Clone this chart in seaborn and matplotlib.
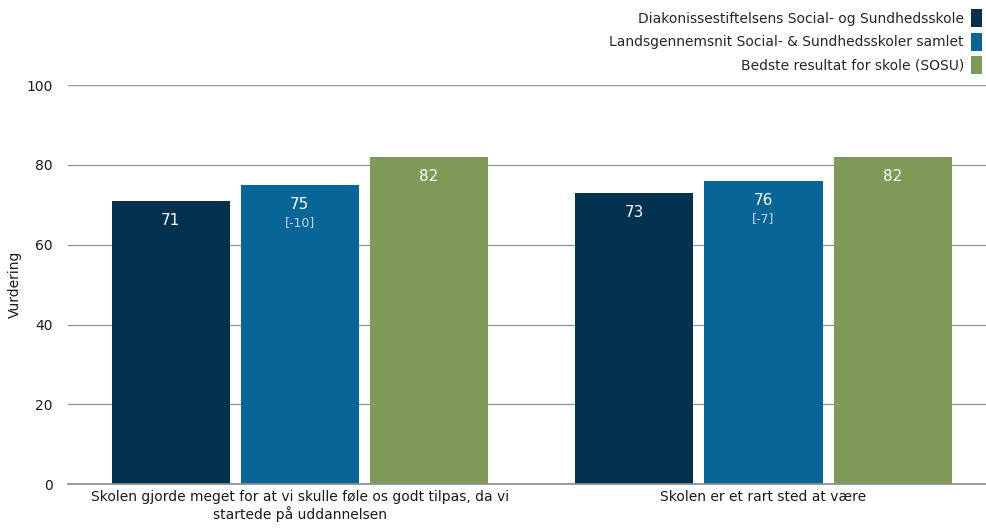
import pandas as pd
import seaborn as sns
import matplotlib.pyplot as plt
from matplotlib.patches import Patch

questions = [
    "Skolen gjorde meget for at vi skulle føle os godt tilpas, da vi\nstartede på uddannelsen",
    "Skolen er et rart sted at være",
]
series = [
    "Diakonissestiftelsens Social- og Sundhedsskole",
    "Landsgennemsnit Social- & Sundhedsskoler samlet",
    "Bedste resultat for skole (SOSU)",
]
school = [71, 73]
national = [75, 76]
best = [82, 82]
national_diff = ["[-10]", "[-7]"]
colors = ["#03324F", "#076598", "#7F9A58"]

rows = []
for name, vals in zip(series, [school, national, best]):
    for q, v in zip(questions, vals):
        rows.append({"Spørgsmål": q, "Serie": name, "Vurdering": v})
df = pd.DataFrame(rows)

sns.set_theme(style="white")
plt.rcParams["font.family"] = ["DejaVu Sans"]

fig = plt.figure(figsize=(9.86, 5.28), dpi=100)
ax = fig.add_axes([0.069, 0.083, 0.931, 0.756])

sns.barplot(data=df, x="Spørgsmål", y="Vurdering", hue="Serie", hue_order=series,
            palette=colors, width=0.836, gap=0.086, saturation=1, ax=ax,
            errorbar=None, linewidth=0)

ax.set_ylim(0, 100)
ax.set_xlim(-0.5, 1.48)
ax.set_yticks([0, 20, 40, 60, 80, 100])
ax.yaxis.grid(True, color="#999999", linewidth=1)
ax.set_axisbelow(True)
for s in ["top", "right", "left"]:
    ax.spines[s].set_visible(False)
ax.spines["bottom"].set_color("#8c8c8c")
ax.tick_params(axis="both", length=0, labelsize=10, colors="#1a1a1a")
ax.tick_params(axis="y", pad=11)
ax.tick_params(axis="x", pad=4)
ax.set_xlabel("")
ax.set_ylabel("Vurdering", fontsize=10, labelpad=3, color="#1a1a1a")

for i, cont in enumerate(ax.containers):
    for j, bar in enumerate(cont):
        x = bar.get_x() + bar.get_width() / 2
        h = bar.get_height()
        ax.annotate(f"{h:.0f}", (x, h), xytext=(0, -14), textcoords="offset points",
                    ha="center", va="center", color="white", fontsize=11)
        if i == 1:
            ax.annotate(national_diff[j], (x, h), xytext=(0, -27), textcoords="offset points",
                        ha="center", va="center", color="#c5d6e6", fontsize=9)

ax.get_legend().remove()
handles = [Patch(facecolor=c, edgecolor="none") for c in colors]
fig.legend(handles, series, loc="upper right", bbox_to_anchor=(1.0, 0.99),
           frameon=False, markerfirst=False, fontsize=10, handlelength=0.8,
           handleheight=1.6, handletextpad=0.5, labelspacing=0.4, borderpad=0.3,
           borderaxespad=0.0)
for t in fig.legends[0].get_texts():
    t.set_ha("right")
fig.legends[0]._legend_box.align = "right"

fig.savefig("out.png", dpi=100)
